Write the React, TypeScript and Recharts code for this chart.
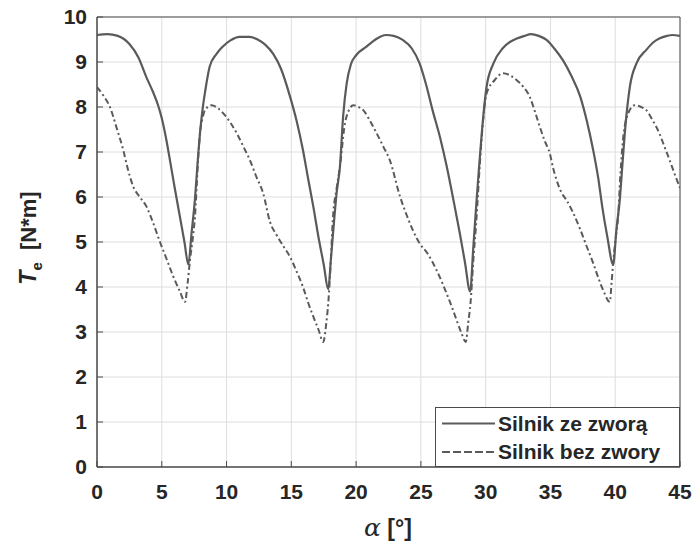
import React from 'react';
import { LineChart, Line, XAxis, YAxis, CartesianGrid, ReferenceArea, Legend, Label } from 'recharts';

const solidX = [0, 0.8, 1.6, 2.5, 3.2, 3.8, 4.3, 4.7, 5.0, 5.3, 5.63, 6.0, 6.4, 6.75, 7.05, 7.3, 7.56, 7.8, 7.95, 8.15, 8.35, 8.7, 9.2, 9.7, 10.3, 11.0, 11.8, 12.4, 13.0, 13.6, 14.2, 14.9, 15.4, 15.9, 16.3, 16.7, 17.1, 17.5, 17.85, 18.05, 18.25, 18.5, 18.75, 19.0, 19.27, 19.6, 20.0, 20.8, 21.5, 22.3, 22.9, 23.6, 24.3, 24.9, 25.4, 25.9, 26.5, 27.0, 27.5, 28.0, 28.4, 28.8, 29.05, 29.3, 29.5, 29.7, 30.07, 30.6, 31.3, 31.9, 32.4, 33.0, 33.5, 34.1, 34.7, 35.3, 35.96, 36.6, 37.3, 37.8, 38.3, 38.7, 39.0, 39.4, 39.84, 40.1, 40.35, 40.55, 40.74, 41.13, 41.64, 42.4, 43.0, 43.4, 44.0, 44.4, 45.0];
const solidY = [9.6, 9.62, 9.58, 9.4, 9.1, 8.67, 8.35, 8.05, 7.75, 7.35, 6.82, 6.2, 5.56, 5.0, 4.5, 5.2, 5.95, 6.9, 7.42, 7.95, 8.35, 8.9, 9.17, 9.34, 9.48, 9.56, 9.56, 9.5, 9.38, 9.18, 8.85, 8.23, 7.7, 7.04, 6.4, 5.78, 5.1, 4.5, 3.95, 4.6, 5.3, 6.1, 6.67, 7.8, 8.52, 8.95, 9.15, 9.34, 9.5, 9.6, 9.58, 9.49, 9.3, 8.97, 8.5, 7.93, 7.3, 6.67, 5.95, 5.2, 4.55, 3.9, 4.9, 5.93, 6.7, 7.42, 8.45, 8.97, 9.3, 9.45, 9.52, 9.58, 9.62, 9.58, 9.49, 9.3, 9.04, 8.7, 8.23, 7.7, 7.04, 6.4, 5.78, 5.1, 4.5, 5.3, 5.93, 6.7, 7.42, 8.45, 8.97, 9.27, 9.45, 9.52, 9.58, 9.6, 9.58];

const dashX = [0, 0.5, 1.0, 1.5, 2.03, 2.4, 2.8, 3.3, 3.83, 4.3, 4.86, 5.4, 5.89, 6.4, 6.79, 7.0, 7.18, 7.4, 7.56, 7.8, 7.95, 8.15, 8.33, 8.85, 9.3, 9.75, 10.3, 10.78, 11.3, 11.8, 12.3, 12.83, 13.35, 13.87, 14.4, 14.9, 15.4, 15.9, 16.3, 16.7, 17.1, 17.46, 17.7, 17.85, 18.05, 18.2, 18.5, 18.75, 19.14, 19.4, 19.78, 20.2, 20.55, 21.1, 21.58, 22.1, 22.6, 23.4, 23.9, 24.4, 24.9, 25.5, 26.2, 26.98, 27.4, 27.75, 28.1, 28.47, 28.65, 28.83, 29.05, 29.3, 29.5, 29.68, 30.07, 30.7, 31.35, 31.9, 32.38, 32.9, 33.4, 33.8, 34.18, 34.55, 34.95, 35.2, 35.47, 35.85, 36.24, 36.75, 37.27, 37.8, 38.3, 38.7, 39.07, 39.58, 39.72, 39.84, 40.0, 40.22, 40.4, 40.6, 41.0, 41.5, 42.0, 42.4, 42.9, 43.4, 43.8, 44.2, 44.6, 45.0];
const dashY = [8.44, 8.25, 8.0, 7.55, 7.04, 6.6, 6.23, 6.0, 5.78, 5.45, 5.0, 4.6, 4.23, 3.9, 3.67, 4.1, 4.6, 5.1, 5.56, 6.8, 7.42, 7.75, 7.93, 8.04, 7.98, 7.86, 7.65, 7.42, 7.12, 6.82, 6.45, 6.08, 5.45, 5.15, 4.9, 4.67, 4.35, 4.0, 3.65, 3.34, 3.05, 2.78, 3.2, 3.64, 4.6, 5.49, 6.2, 6.67, 7.64, 7.9, 8.04, 8.0, 7.93, 7.68, 7.42, 7.12, 6.82, 6.0, 5.6, 5.25, 4.97, 4.75, 4.38, 3.86, 3.55, 3.27, 3.0, 2.78, 3.2, 3.64, 4.6, 5.56, 6.5, 7.27, 8.3, 8.6, 8.75, 8.7, 8.6, 8.45, 8.23, 7.9, 7.56, 7.25, 6.97, 6.65, 6.38, 6.1, 5.93, 5.65, 5.3, 4.9, 4.53, 4.2, 3.93, 3.67, 4.1, 4.53, 5.0, 5.56, 6.5, 7.27, 7.86, 8.04, 8.0, 7.93, 7.7, 7.42, 7.12, 6.82, 6.5, 6.2];

const xTicks = [0, 5, 10, 15, 20, 25, 30, 35, 40, 45];
const yTicks = [0, 1, 2, 3, 4, 5, 6, 7, 8, 9, 10];
const seriesNames = ['Silnik ze zworą', 'Silnik bez zwory'];

const solidData = solidX.map((x, i) => ({ x, y: solidY[i] }));
const dashData = dashX.map((x, i) => ({ x, y: dashY[i] }));

const FONT = '"Liberation Sans", Arial, sans-serif';
const LINE = '#5a5a5a';
const AXIS = '#4a4a4a';
const TEXT = '#262626';

const renderLegend = () => (
  <div style={{ width: 245, height: 60, boxSizing: 'border-box', border: `1px solid ${AXIS}`, background: '#fff' }}>
    <svg width={243} height={58} style={{ display: 'block' }}>
      <line x1={6} x2={59} y1={15.5} y2={15.5} stroke={LINE} strokeWidth={2} />
      <text x={62} y={23} fontFamily={FONT} fontWeight="bold" fontSize={21} fill={TEXT}>{seriesNames[0]}</text>
      <line x1={6} x2={59} y1={44} y2={44} stroke={LINE} strokeWidth={2} strokeDasharray="8 3" />
      <text x={62} y={51} fontFamily={FONT} fontWeight="bold" fontSize={21} fill={TEXT}>{seriesNames[1]}</text>
    </svg>
  </div>
);

const YLabel = () => (
  <text transform="rotate(-90, 36, 238)" x={36} y={238} textAnchor="middle" fontFamily={FONT} fontWeight="bold" fontSize={22} fill={TEXT}>
    <tspan fontStyle="italic" fontSize={23}>T</tspan>
    <tspan fontSize={15} dy={6}>e</tspan>
    <tspan dy={-6}>{'\u00a0\u00a0[N*m]'}</tspan>
  </text>
);

const XLabel = () => (
  <text x={388} y={536} textAnchor="middle" fill={TEXT} fontSize={23}>
    <tspan fontFamily='"DejaVu Serif", "Liberation Serif", serif' fontStyle="italic" fontWeight="normal" fontSize={25}>α</tspan>
    <tspan fontFamily={FONT} fontWeight="bold">{'\u00a0[°]'}</tspan>
  </text>
);

export default function App() {
  return (
    <div style={{ position: 'absolute', left: 0, top: 0, width: 697, height: 542, background: '#fff' }}>
      <LineChart width={697} height={542} margin={{ top: 17, right: 17, bottom: 0, left: 0 }}>
        <CartesianGrid stroke="#dedede" strokeWidth={1} />
        <XAxis
          type="number"
          dataKey="x"
          domain={[0, 45]}
          ticks={xTicks}
          allowDataOverflow
          height={75}
          tickSize={-6}
          tickMargin={23}
          stroke={AXIS}
          tick={{ fontFamily: FONT, fontWeight: 'bold', fontSize: 21, fill: TEXT }}
          label={<Label content={XLabel} />}
        />
        <YAxis
          type="number"
          domain={[0, 10]}
          ticks={yTicks}
          allowDataOverflow
          width={97}
          tickSize={-6}
          tickMargin={16}
          stroke={AXIS}
          tick={{ fontFamily: FONT, fontWeight: 'bold', fontSize: 21, fill: TEXT }}
          label={<Label content={YLabel} />}
        />
        <ReferenceArea x1={0} x2={45} y1={0} y2={10} fill="none" stroke={AXIS} strokeWidth={1} ifOverflow="visible" />
        <Line data={solidData} dataKey="y" type="monotoneX" stroke={LINE} strokeWidth={2.2} dot={false} isAnimationActive={false} name={seriesNames[0]} />
        <Line data={dashData} dataKey="y" type="monotoneX" stroke={LINE} strokeWidth={2} strokeDasharray="6 3 2 3" dot={false} isAnimationActive={false} name={seriesNames[1]} />
        <Legend
          layout="horizontal"
          verticalAlign="middle"
          align="center"
          content={renderLegend}
          wrapperStyle={{ left: 435, top: 407, width: 245, height: 60 }}
        />
      </LineChart>
    </div>
  );
}
